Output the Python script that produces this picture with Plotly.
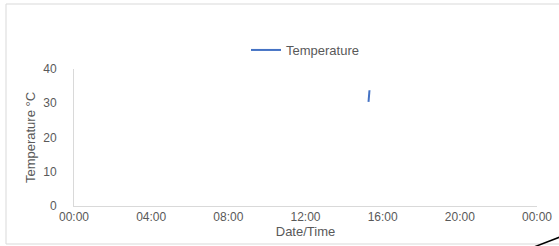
import plotly.graph_objects as go

# Data
times = ["2020-01-01 15:16", "2020-01-01 15:19"]
temps = [30.4, 33.8]
series_name = "Temperature"
x_range = ["2020-01-01 00:00", "2020-01-02 00:00"]
y_range = [0, 40]
y_ticks = [0, 10, 20, 30, 40]

W, H = 559, 246
L, R, T, B = 74, 22, 69, 40
pw, ph = W - L - R, H - T - B

def px(x):
    return (x - L) / pw

def py(y):
    return (H - B - y) / ph

fig = go.Figure()
fig.add_trace(go.Scatter(x=times, y=temps, mode="lines", name=series_name,
                         line=dict(color="#4472C4", width=2)))

font = dict(family="Liberation Sans, Arial, sans-serif", size=12, color="#595959")
tfont = dict(family="Liberation Sans, Arial, sans-serif", size=13, color="#595959")

fig.update_layout(
    width=W, height=H,
    margin=dict(l=L, r=R, t=T, b=B, autoexpand=False),
    paper_bgcolor="white", plot_bgcolor="white",
    font=font,
    showlegend=True,
    legend=dict(orientation="h", xref="container", yref="container",
                x=305 / W, xanchor="center", y=1 - 50 / H, yanchor="middle",
                font=tfont, bgcolor="rgba(0,0,0,0)", itemwidth=30),
    xaxis=dict(type="date", range=x_range, dtick=4 * 3600 * 1000, tickformat="%H:%M",
               showgrid=False, showline=True, linecolor="#d9d9d9", linewidth=1,
               zeroline=False, ticks="", tickfont=font, automargin=False,
               title=dict(text="Date/Time", font=tfont, standoff=2)),
    yaxis=dict(range=y_range, tickvals=y_ticks, showgrid=False, showline=True,
               linecolor="#d9d9d9", linewidth=1, zeroline=False, automargin=False,
               ticks="outside", ticklen=14, tickcolor="rgba(0,0,0,0)", tickfont=font,
               title=dict(text="Temperature °C", font=tfont, standoff=4)),
    shapes=[
        dict(type="rect", xref="paper", yref="paper",
             x0=px(6), x1=px(575), y0=py(244), y1=py(4),
             line=dict(color="#d9d9d9", width=1), layer="below"),
        dict(type="line", xref="paper", yref="paper",
             x0=px(534), y0=py(247), x1=px(560), y1=py(237),
             line=dict(color="black", width=1.5)),
    ],
)

fig.write_html("out.html", config={"displayModeBar": False},
               post_script="document.body.style.margin='0';")
